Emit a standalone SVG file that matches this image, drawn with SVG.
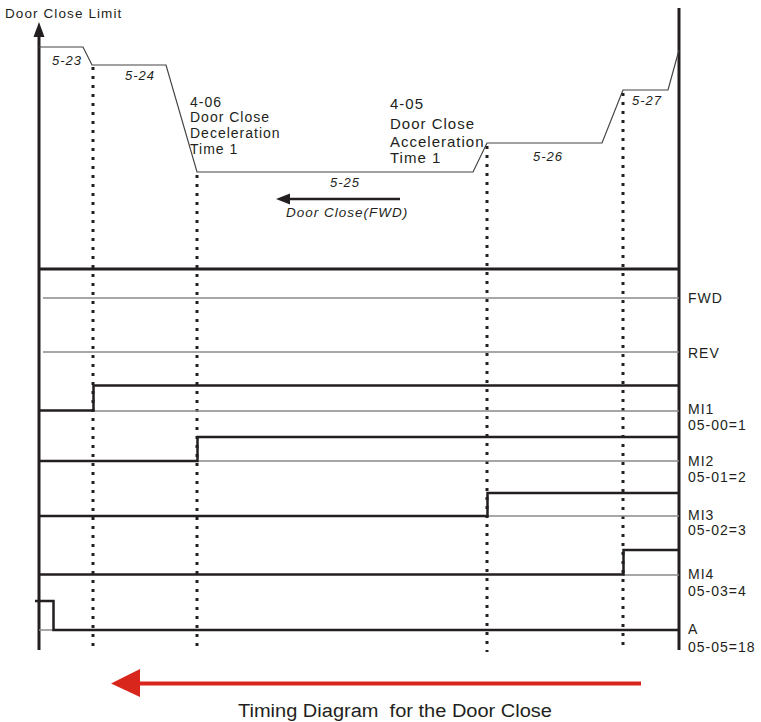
<svg xmlns="http://www.w3.org/2000/svg" width="761" height="722" viewBox="0 0 761 722">
<style>
text{font-family:"Liberation Sans",Arial,sans-serif;fill:#231f20}
.lbl{font-size:14px;letter-spacing:1px}
.it{font-size:13px;font-style:italic;letter-spacing:1px}
.ax{stroke:#231f20;stroke-width:3;fill:none}
.thin{stroke:#8a8a8a;stroke-width:1.5;fill:none}
.sig{stroke:#231f20;stroke-width:2.5;fill:none}
.prof{stroke:#444;stroke-width:1.2;fill:none}
.dot{stroke:#231f20;stroke-width:3;stroke-dasharray:3 6;fill:none}
</style>
<g id="axes">
<line class="ax" x1="39" y1="34" x2="39" y2="650"/>
<polygon points="39,22 33.5,37 44.5,37" fill="#231f20"/>
<line class="ax" x1="679" y1="8" x2="679" y2="650"/>
<line class="ax" x1="39" y1="269" x2="679" y2="269"/>
<text x="5" y="18" style="font-size:13.5px;letter-spacing:1.1px">Door Close Limit</text>
</g>
<g id="profile">
<polyline class="prof" points="39,47 83,47 92,65 166,65 197,172 473,172 487,143 602,143 623,90 668,90 679,50"/>
<text class="it" x="52" y="65">5-23</text>
<text class="it" x="125" y="80">5-24</text>
<text class="it" x="330" y="187">5-25</text>
<text class="it" x="533" y="161">5-26</text>
<text class="it" x="632" y="105">5-27</text>
</g>
<g id="label-406" class="lbl">
<text x="190" y="107">4-06</text>
<text x="190" y="122">Door Close</text>
<text x="190" y="138">Deceleration</text>
<text x="190" y="154">Time 1</text>
</g>
<g id="label-405">
<text x="390" y="109" style="font-size:15px;letter-spacing:1px">4-05</text>
<text x="390" y="129" style="font-size:15px;letter-spacing:1px">Door Close</text>
<text x="390" y="147" style="font-size:15px;letter-spacing:1px">Acceleration</text>
<text x="390" y="163" style="font-size:15px;letter-spacing:1px">Time 1</text>
</g>
<g id="direction">
<line x1="288" y1="199" x2="400" y2="199" stroke="#231f20" stroke-width="2.5"/>
<polygon points="276,199 290,193.5 290,204.5" fill="#231f20"/>
<text class="it" x="286" y="217" style="font-size:13.5px;letter-spacing:1px">Door Close(FWD)</text>
</g>
<g id="connectors">
<line class="dot" x1="93" y1="67" x2="93" y2="652"/>
<line class="dot" x1="197" y1="175" x2="197" y2="652"/>
<line class="dot" x1="487" y1="146" x2="487" y2="652"/>
<line class="dot" x1="623" y1="93" x2="623" y2="648"/>
</g>
<g id="sig-fwd">
<line class="thin" x1="43" y1="298" x2="679" y2="298"/>
<text class="lbl" x="688" y="303">FWD</text>
</g>
<g id="sig-rev">
<line class="thin" x1="43" y1="352" x2="679" y2="352"/>
<text class="lbl" x="688" y="358">REV</text>
</g>
<g id="sig-mi1">
<line class="thin" x1="93" y1="411" x2="679" y2="411"/>
<polyline class="sig" points="39,410.5 93.5,410.5 93.5,385.5 679,385.5"/>
<text class="lbl" x="688" y="414">MI1</text>
<text class="lbl" x="688" y="430">05-00=1</text>
</g>
<g id="sig-mi2">
<line class="thin" x1="197" y1="461" x2="679" y2="461"/>
<polyline class="sig" points="39,461 197.5,461 197.5,437 679,437"/>
<text class="lbl" x="688" y="466">MI2</text>
<text class="lbl" x="688" y="482">05-01=2</text>
</g>
<g id="sig-mi3">
<line class="thin" x1="487" y1="516" x2="679" y2="516"/>
<polyline class="sig" points="39,516 487.5,516 487.5,493 679,493"/>
<text class="lbl" x="688" y="520">MI3</text>
<text class="lbl" x="688" y="535">05-02=3</text>
</g>
<g id="sig-mi4">
<line class="thin" x1="623" y1="575" x2="679" y2="575"/>
<polyline class="sig" points="39,574.5 623.5,574.5 623.5,550 679,550"/>
<text class="lbl" x="688" y="579">MI4</text>
<text class="lbl" x="688" y="596">05-03=4</text>
</g>
<g id="sig-a">
<line class="thin" x1="39" y1="630" x2="679" y2="630"/>
<polyline class="sig" points="35,601 53.5,601 53.5,630 679,630"/>
<text class="lbl" x="688" y="634">A</text>
<text class="lbl" x="688" y="652">05-05=18</text>
</g>
<g id="caption">
<line x1="138" y1="683.5" x2="641" y2="683.5" stroke="#d9261c" stroke-width="4"/>
<polygon points="111,683.5 140,669 140,697" fill="#d9261c"/>
<text x="238" y="717" xml:space="preserve" style="font-size:18px" textLength="314" lengthAdjust="spacingAndGlyphs">Timing Diagram  for the Door Close</text>
</g>
</svg>
